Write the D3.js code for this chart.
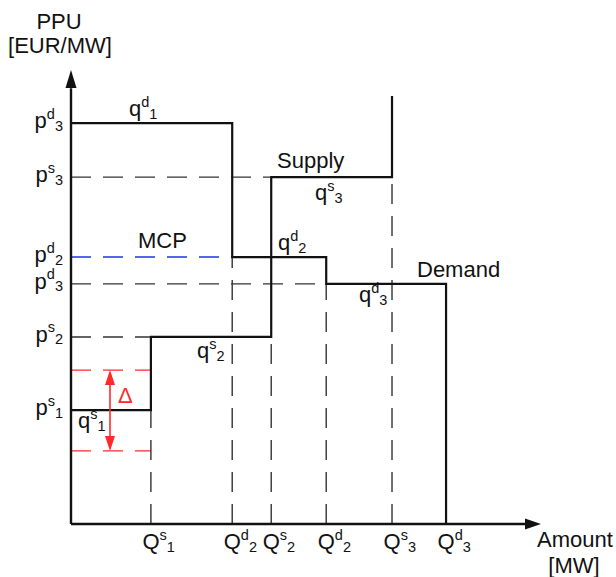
<!DOCTYPE html>
<html><head><meta charset="utf-8">
<script src="https://cdn.jsdelivr.net/npm/d3@7"></script>
<style>html,body{margin:0;padding:0;background:#fff;}svg{display:block;font-family:"Liberation Sans",Arial,sans-serif;}</style>
</head><body>
<svg id="c" width="616" height="577"></svg>
<script>
// ---- data (abstract units) ----
const demandQ = [34.3, 54.3, 79.8];        // Q^d_2, Q^d_2, Q^d_3
const demandP = [88.3, 58.8, 52.9];        // p^d_3, p^d_2, p^d_3
const supplyQ = [17.0, 42.6, 68.3];        // Q^s_1, Q^s_2, Q^s_3
const supplyP = [25.1, 41.2, 76.4];        // p^s_1, p^s_2, p^s_3
const supplyCap = 94.3;
const mcp = 58.8;
const deltaBand = [16.1, 33.9];
const xTickValues = [17.0, 34.3, 42.6, 54.3, 68.3, 79.8];
const xTickLabels = [["Q","s","1"],["Q","d","2"],["Q","s","2"],["Q","d","2"],["Q","s","3"],["Q","d","3"]];
const yTickValues = [88.3, 76.4, 58.8, 52.9, 41.2, 25.1];
const yTickLabels = [["p","d","3"],["p","s","3"],["p","d","2"],["p","d","3"],["p","s","2"],["p","s","1"]];

const svg = d3.select("#c");
const x = d3.scaleLinear().domain([0,100]).range([71,541]);
const y = d3.scaleLinear().domain([0,100]).range([524,70]);
const FS = 22, SFS = 14.5;
const DASH = "20,12";

function label(g, parts, px, py, anchor, color){
  const t = g.append("text").attr("x",px).attr("y",py).attr("font-size",FS)
    .attr("text-anchor",anchor||"start").attr("fill",color||"#111");
  t.append("tspan").text(parts[0]);
  if(parts.length>1){
    t.append("tspan").attr("font-size",SFS).attr("dy",-9.5).text(parts[1]);
    t.append("tspan").attr("font-size",SFS).attr("dy",12).text(parts[2]);
  }
  return t;
}
const line = d3.line().x(d=>x(d[0])).y(d=>y(d[1]));

// dashed guide lines
const guides = svg.append("g").attr("fill","none").attr("stroke-width",1.4);
function hdash(v, xEnd, color){ guides.append("path").attr("d", line([[0,v],[xEnd,v]])).attr("stroke",color).attr("stroke-dasharray",DASH); }
function vdash(q, yEnd){ guides.append("path").attr("d", line([[q,0],[q,yEnd]])).attr("stroke","#333").attr("stroke-dasharray",DASH); }
hdash(supplyP[2], supplyQ[1], "#333");
hdash(mcp, demandQ[0], "#2233ee");
hdash(demandP[2], demandQ[1], "#333");
hdash(supplyP[1], supplyQ[0], "#333");
hdash(deltaBand[1], supplyQ[0], "#ff2a2a");
hdash(deltaBand[0], supplyQ[0], "#ff2a2a");
vdash(supplyQ[0], supplyP[0]);
vdash(demandQ[0], demandP[1]);
vdash(supplyQ[1], supplyP[1]);
vdash(demandQ[1], demandP[2]);
vdash(supplyQ[2], supplyP[2]);

// demand curve
const dPts = [[0,demandP[0]]];
demandQ.forEach((q,i)=>{ dPts.push([q,demandP[i]]); dPts.push([q, i<demandQ.length-1?demandP[i+1]:0]); });
svg.append("path").attr("d",line(dPts)).attr("fill","none").attr("stroke","#111").attr("stroke-width",2.2);
// supply curve
const sPts = [[0,supplyP[0]]];
supplyQ.forEach((q,i)=>{ sPts.push([q,supplyP[i]]); sPts.push([q, i<supplyQ.length-1?supplyP[i+1]:supplyCap]); });
svg.append("path").attr("d",line(sPts)).attr("fill","none").attr("stroke","#111").attr("stroke-width",2.2);

// axes
svg.append("path").attr("d",line([[0,0],[0,96]])).attr("stroke","#111").attr("stroke-width",2.4);
svg.append("path").attr("d",line([[0,0],[97,0]])).attr("stroke","#111").attr("stroke-width",2.4);
const yt = y(100), xt = x(100);
svg.append("path").attr("d",`M${x(0)},${yt} L${x(0)-5.5},${yt+18} L${x(0)+5.5},${yt+18} Z`).attr("fill","#111");
svg.append("path").attr("d",`M${xt},${y(0)} L${xt-16},${y(0)-5.5} L${xt-16},${y(0)+5.5} Z`).attr("fill","#111");

// tick labels
const tl = svg.append("g");
xTickValues.forEach((v,i)=> label(tl, xTickLabels[i], x(v)-8.5, 549));
yTickValues.forEach((v,i)=> label(tl, yTickLabels[i], 63, y(v)+5, "end"));

// axis titles
svg.append("text").attr("x",59).attr("y",29).attr("font-size",FS).attr("text-anchor","middle").attr("fill","#111").text("PPU");
svg.append("text").attr("x",60).attr("y",53).attr("font-size",FS).attr("text-anchor","middle").attr("fill","#111").text("[EUR/MW]");
svg.append("text").attr("x",575).attr("y",547).attr("font-size",FS).attr("text-anchor","middle").attr("fill","#111").text("Amount");
svg.append("text").attr("x",574).attr("y",573).attr("font-size",FS).attr("text-anchor","middle").attr("fill","#111").text("[MW]");

// in-plot labels
const pl = svg.append("g");
label(pl, ["q","d","1"], 129, 116);
pl.append("text").attr("x",277).attr("y",168).attr("font-size",FS).attr("fill","#111").text("Supply");
label(pl, ["q","s","3"], 315, 200);
pl.append("text").attr("x",138).attr("y",248).attr("font-size",FS).attr("fill","#111").text("MCP");
label(pl, ["q","d","2"], 278, 250);
pl.append("text").attr("x",417).attr("y",277).attr("font-size",FS).attr("fill","#111").text("Demand");
label(pl, ["q","d","3"], 359, 302);
label(pl, ["q","s","2"], 197, 358);
label(pl, ["q","s","1"], 78, 428);

// delta arrow
const ax = 110, y1 = y(deltaBand[1]), y0 = y(deltaBand[0]);
svg.append("line").attr("x1",ax).attr("x2",ax).attr("y1",y1+12).attr("y2",y0-12).attr("stroke","#ff2a2a").attr("stroke-width",1.6);
svg.append("path").attr("d",`M${ax},${y1} L${ax-5},${y1+15} L${ax+5},${y1+15} Z`).attr("fill","#ff2a2a");
svg.append("path").attr("d",`M${ax},${y0} L${ax-5},${y0-15} L${ax+5},${y0-15} Z`).attr("fill","#ff2a2a");
svg.append("text").attr("x",118).attr("y",403).attr("font-size",FS).attr("fill","#ff2a2a").text("Δ");
</script>
</body></html>
